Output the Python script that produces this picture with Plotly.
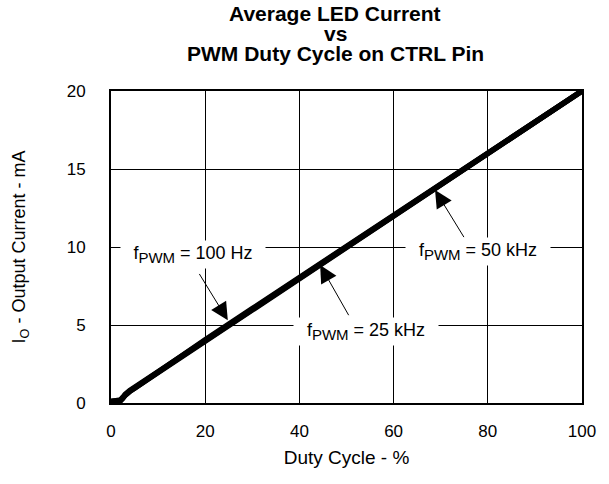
import plotly.graph_objects as go

duty = [0, 1, 2, 2.5, 3, 4, 5, 10, 20, 30, 40, 50, 60, 70, 80, 90, 100]
i_100hz = [0.1, 0.1, 0.15, 0.3, 0.5, 0.75, 0.95, 2.0, 4.05, 6.0, 8.0, 10.0, 12.0, 14.0, 16.0, 18.0, 20.0]
i_25khz = [0.1, 0.1, 0.15, 0.35, 0.5, 0.75, 0.95, 2.0, 4.05, 6.05, 8.05, 10.0, 12.0, 14.0, 16.0, 18.0, 20.0]
i_50khz = [0.1, 0.12, 0.2, 0.35, 0.55, 0.8, 1.0, 2.05, 4.1, 6.05, 8.05, 10.05, 12.05, 14.0, 16.0, 18.0, 20.0]

x_ticks = [0, 20, 40, 60, 80, 100]
y_ticks = [0, 5, 10, 15, 20]

title_lines = ["Average LED Current", "vs", "PWM Duty Cycle on CTRL Pin"]
SUB = "<sub><span style='font-size:15px'>PWM</span></sub>"
labels = ["f" + SUB + " = 100 Hz", "f" + SUB + " = 25 kHz", "f" + SUB + " = 50 kHz"]
label_pos = [(17.4, 9.5), (54.1, 4.6), (77.9, 9.7)]
arrow_tip = [(24.8, 5.3), (44.4, 8.85), (68.8, 13.65)]
arrow_tail = [(18.5, 8.4), (50.7, 5.5), (75.2, 10.5)]

FONT = "Liberation Sans, Arial, sans-serif"

fig = go.Figure()
for ys in (i_100hz, i_25khz, i_50khz):
    fig.add_trace(go.Scatter(x=duty, y=ys, mode="lines",
                             line=dict(color="black", width=5.5), showlegend=False))

ann = []
title_y = [13.7, 33.5, 53]
for t, py in zip(title_lines, title_y):
    ann.append(dict(x=0.5, y=1, xref="paper", yref="paper", yanchor="middle",
                    xshift=-11.5, yshift=91 - py, text="<b>" + t + "</b>", showarrow=False,
                    font=dict(family=FONT, size=21, color="black")))
for (hx, hy), (sx, sy) in zip(arrow_tip, arrow_tail):
    ann.append(dict(x=hx, y=hy, ax=sx, ay=sy, xref="x", yref="y", axref="x", ayref="y",
                    text=" ", font=dict(size=1), showarrow=True, arrowhead=2,
                    arrowsize=3.5, arrowwidth=1, arrowcolor="black"))
for t, (lx, ly) in zip(labels, label_pos):
    ann.append(dict(x=lx, y=ly, xref="x", yref="y", text=t, showarrow=False,
                    font=dict(family=FONT, size=18, color="black"),
                    width=140, align="center", bgcolor="white", borderpad=2))

fig.update_layout(
    width=609, height=484,
    margin=dict(l=111, r=27, t=91, b=81),
    paper_bgcolor="white", plot_bgcolor="white",
    font=dict(family=FONT, color="black"),
    annotations=ann,
    xaxis=dict(range=[0, 100], tickvals=x_ticks, showgrid=True, gridcolor="black", gridwidth=1,
               showline=True, linecolor="black", linewidth=2, mirror=True, zeroline=False,
               ticks="", tickfont=dict(size=17), ticklabelstandoff=12,
               title=dict(text="Duty Cycle - %", font=dict(size=19), standoff=10)),
    yaxis=dict(range=[0, 20], tickvals=y_ticks, showgrid=True, gridcolor="black", gridwidth=1,
               showline=True, linecolor="black", linewidth=2, mirror=True, zeroline=False,
               ticks="", tickfont=dict(size=17), ticklabelstandoff=20,
               title=dict(text="I<sub>O</sub> - Output Current - mA", font=dict(size=18), standoff=36)),
)

fig.write_html("out.html", config={"displayModeBar": False},
               post_script="document.body.style.margin='0';")
